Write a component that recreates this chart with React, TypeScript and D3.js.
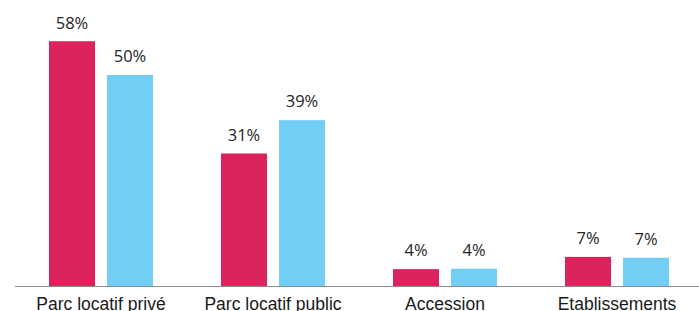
import * as d3 from "d3";

const categories = ["Parc locatif privé", "Parc locatif public", "Accession", "Etablissements"];
const seriesKeys = ["serieA", "serieB"];
const serieA = [58, 31.4, 4.0, 6.9];
const serieB = [50, 39.3, 4.1, 6.7];

const WIDTH = 699;
const HEIGHT = 311;
const BASELINE = 286;
const COLORS: Record<string, string> = { serieA: "#dd235e", serieB: "#72cef5" };

export default function App() {
  const x = d3.scaleBand<string>().domain(categories).range([15, 703]).padding(0);
  const x1 = d3
    .scaleBand<string>()
    .domain(seriesKeys)
    .range([x.bandwidth() / 2 - 52, x.bandwidth() / 2 + 52])
    .paddingInner(12 / 58)
    .paddingOuter(0);
  const y = d3.scaleLinear().domain([0, 60]).range([BASELINE, BASELINE - 60 * 4.22]);
  const fmt = (v: number) => `${Math.round(v)}%`;

  const rows = categories.map((c, i) => ({ cat: c, serieA: serieA[i], serieB: serieB[i] }));

  return (
    <svg
      width={WIDTH}
      height={HEIGHT}
      style={{ position: "absolute", left: 0, top: 0, display: "block", background: "#fff" }}
    >
      {rows.map((row) => (
        <g key={row.cat} transform={`translate(${x(row.cat)},0)`}>
          {seriesKeys.map((k) => {
            const v = (row as any)[k] as number;
            const bx = x1(k) ?? 0;
            return (
              <g key={k}>
                <rect
                  x={bx}
                  y={y(v)}
                  width={x1.bandwidth()}
                  height={BASELINE - y(v)}
                  fill={COLORS[k]}
                />
                <text
                  x={bx + x1.bandwidth() / 2}
                  y={y(v) - 12.7}
                  textAnchor="middle"
                  fontFamily="'Open Sans', sans-serif"
                  fontSize={16.5}
                  fill="#262626"
                >
                  {fmt(v)}
                </text>
              </g>
            );
          })}
          <text
            x={x.bandwidth() / 2}
            y={309.5}
            textAnchor="middle"
            fontFamily="'Liberation Sans', Arial, sans-serif"
            fontSize={17.5}
            fill="#1a1a1a"
          >
            {row.cat}
          </text>
        </g>
      ))}
      <line x1={15} x2={WIDTH} y1={BASELINE + 0.5} y2={BASELINE + 0.5} stroke="#8c8c8c" strokeWidth={1} />
    </svg>
  );
}
